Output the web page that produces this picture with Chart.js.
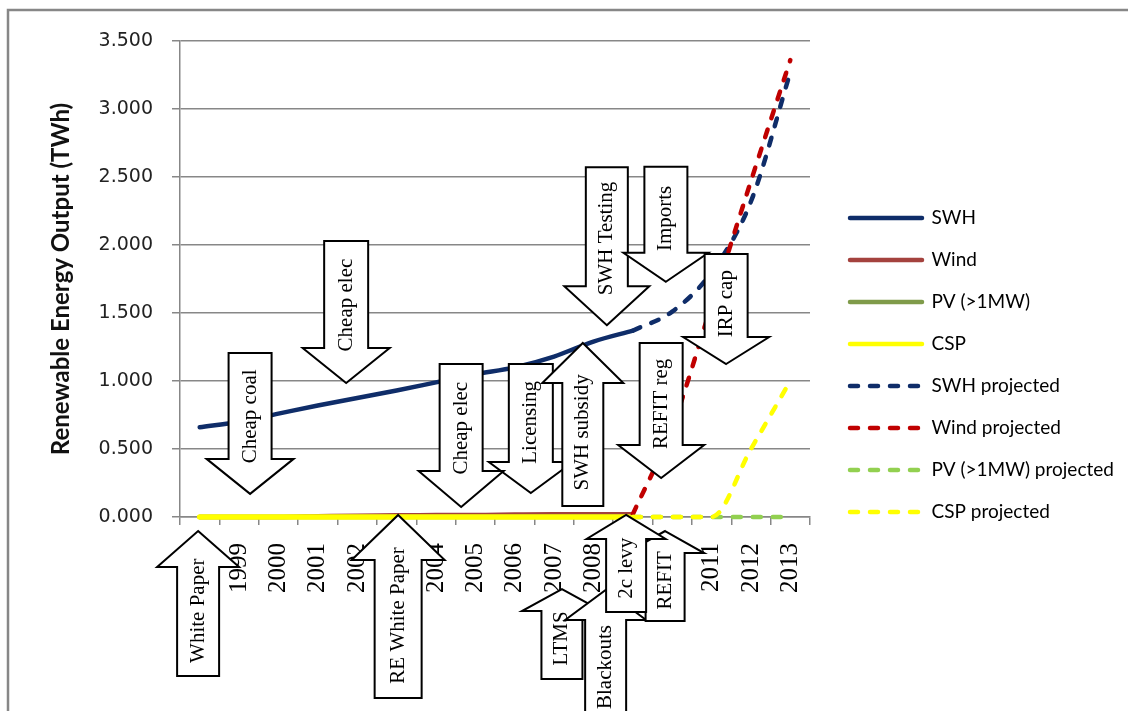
<!DOCTYPE html>
<html>
<head>
<meta charset="utf-8">
<title>Renewable Energy Output</title>
<script src="https://cdn.jsdelivr.net/npm/chart.js@4.4.1/dist/chart.umd.min.js"></script>
<style>
    html, body { margin: 0; padding: 0; background: #fff; }
    canvas { display: block; }
</style>
</head>
<body>
<canvas id="energyChart" width="1128" height="711"></canvas>
<script>
const years = ['1998', '1999', '2000', '2001', '2002', '2003', '2004', '2005',
               '2006', '2007', '2008', '2009', '2010', '2011', '2012', '2013'];

// measured output, TWh (1998-2009)
const swh  = [0.66, 0.70, 0.76, 0.82, 0.875, 0.93, 0.99, 1.05, 1.10, 1.18, 1.29, 1.37];
const wind = [0, 0, 0, 0.005, 0.01, 0.012, 0.015, 0.015, 0.018, 0.02, 0.02, 0.02];
const pv   = [0, 0, 0, 0, 0, 0, 0, 0, 0, 0, 0, 0];
const csp  = [0, 0, 0, 0, 0, 0, 0, 0, 0, 0, 0, 0];

// projections, TWh (2009-2013)
const swhProj  = [1.37, 1.51, 1.80, 2.32, 3.27];
const windProj = [0.02, 0.66, 1.56, 2.47, 3.36];
const pvProj   = [0, 0, 0, 0, 0];
const cspProj  = [0, 0, 0, 0.5, 1.0];

const yTicks = [0, 0.5, 1, 1.5, 2, 2.5, 3, 3.5];

// policy events: year (fractional), value where the arrow points
const events = [
    { text: 'Cheap coal',     dir: 'down', year: 1999.28, value: 0.17,   len: 141, body: 21.5, wing: 43.5, head: 35 },
    { text: 'Cheap elec',     dir: 'down', year: 2001.72, value: 0.985,  len: 142, body: 22,   wing: 43.5, head: 35 },
    { text: 'Licensing',      dir: 'down', year: 2006.41, value: 0.176,  len: 129, body: 22,   wing: 42,   head: 31 },
    { text: 'Cheap elec',     dir: 'down', year: 2004.64, value: 0.074,  len: 143, body: 21.5, wing: 42.5, head: 36 },
    { text: 'SWH subsidy',    dir: 'up',   year: 2007.73, value: 1.28,   len: 163, body: 20.5, wing: 40.5, head: 40 },
    { text: 'SWH Testing',    dir: 'down', year: 2008.34, value: 1.41,   len: 158, body: 21,   wing: 42.5, head: 39 },
    { text: 'Imports',        dir: 'down', year: 2009.84, value: 1.73,   len: 115, body: 21.5, wing: 42.5, head: 29 },
    { text: 'IRP cap',        dir: 'down', year: 2011.37, value: 1.125,  len: 110, body: 21.5, wing: 43,   head: 27 },
    { text: 'REFIT reg',      dir: 'down', year: 2009.72, value: 0.287,  len: 135, body: 21.5, wing: 43,   head: 33 },
    { text: 'White Paper',    dir: 'up',   year: 1997.96, value: -0.103, len: 145, body: 21,   wing: 41,   head: 36 },
    { text: 'RE White Paper', dir: 'up',   year: 2003.04, value: 0.015,  len: 183, body: 23.5, wing: 46.5, head: 45 },
    { text: 'LTMS',           dir: 'up',   year: 2007.2,  value: -0.53,  len: 90,  body: 20.5, wing: 40,   head: 22 },
    { text: 'Blackouts',      dir: 'up',   year: 2008.31, value: -0.537, len: 142, body: 20.5, wing: 40.5, head: 30 },
    { text: 'REFIT',          dir: 'up',   year: 2009.82, value: -0.103, len: 90,  body: 19.5, wing: 39,   head: 22 },
    { text: '2c levy',        dir: 'up',   year: 2008.83, value: 0.015,  len: 97,  body: 20,   wing: 39.5, head: 24 }
];

// pad the measured series out to 16 years, projections start in 2009
const actual = arr => arr.concat(Array(years.length - arr.length).fill(null));
const projected = arr => Array(years.length - arr.length).fill(null).concat(arr);

const gridGrey = '#878787';
const LEGEND_FONT = 19;
const LEGEND_PAD = 23;
const LEGEND_LINE = 72;

function series(label, data, color, dashed, width) {
    return {
        label: label,
        data: data,
        borderColor: color,
        backgroundColor: color,
        borderWidth: width || 4.5,
        borderDash: dashed ? [8, 12] : [],
        borderCapStyle: 'round',
        pointRadius: 0,
        pointHoverRadius: 0,
        fill: false,
        clip: false,
        cubicInterpolationMode: 'monotone'
    };
}

const datasets = [
    series('SWH', actual(swh), '#0f2d69', false),
    series('Wind', actual(wind), '#a4423e', false),
    series('PV (>1MW)', actual(pv), '#7f9b4a', false),
    series('CSP', actual(csp), '#ffff00', false, 5.5),
    series('SWH projected', projected(swhProj), '#0f2d69', true),
    series('Wind projected', projected(windProj), '#c00000', true),
    series('PV (>1MW) projected', projected(pvProj), '#92d050', true),
    series('CSP projected', projected(cspProj), '#ffff00', true)
];
// later series sit on top of earlier ones
datasets.forEach((ds, i) => { ds.order = -i; });

// legend width, so the plot ends where the category axis should
const measureCtx = document.createElement('canvas').getContext('2d');
measureCtx.font = LEGEND_FONT + 'px Lato';
const longestLabel = Math.max(...datasets.map(ds => measureCtx.measureText(ds.label).width));
const legendWidth = LEGEND_PAD + LEGEND_LINE + LEGEND_FONT / 2 + longestLabel + 10;
const plotRight = 810;
const rightGap = 17;
const padRight = Math.max(0, 1128 - plotRight - rightGap - legendWidth);

const pageBorder = {
    id: 'pageBorder',
    beforeDraw(chart) {
        const ctx = chart.ctx;
        ctx.save();
        ctx.fillStyle = '#ffffff';
        ctx.fillRect(0, 0, chart.width, chart.height);
        ctx.strokeStyle = gridGrey;
        ctx.lineWidth = 2.5;
        ctx.strokeRect(8, 10, chart.width + 40, chart.height + 40);
        ctx.restore();
    }
};

const eventArrows = {
    id: 'eventArrows',
    afterDraw(chart) {
        const { ctx, scales: { x, y } } = chart;
        ctx.save();
        ctx.lineWidth = 2;
        ctx.strokeStyle = '#000';
        ctx.lineJoin = 'miter';
        events.forEach(ev => {
            const tx = x.getPixelForValue(ev.year - Number(years[0]));
            const ty = y.getPixelForValue(ev.value);
            const s = ev.dir === 'up' ? 1 : -1;
            const base = ty + s * ev.head;
            const tail = ty + s * ev.len;

            ctx.beginPath();
            ctx.moveTo(tx, ty);
            ctx.lineTo(tx + ev.wing, base);
            ctx.lineTo(tx + ev.body, base);
            ctx.lineTo(tx + ev.body, tail);
            ctx.lineTo(tx - ev.body, tail);
            ctx.lineTo(tx - ev.body, base);
            ctx.lineTo(tx - ev.wing, base);
            ctx.closePath();
            ctx.fillStyle = '#fff';
            ctx.fill();
            ctx.stroke();

            const mid = (ty + tail) / 2 + s * ev.head * 0.2;
            ctx.save();
            ctx.translate(tx, mid);
            ctx.rotate(-Math.PI / 2);
            ctx.fillStyle = '#000';
            ctx.font = '21px "Liberation Serif"';
            ctx.textAlign = 'center';
            ctx.textBaseline = 'middle';
            ctx.fillText(ev.text, 0, 0);
            ctx.restore();
        });
        ctx.restore();
    }
};

const ctx = document.getElementById('energyChart').getContext('2d');

new Chart(ctx, {
    type: 'line',
    data: {
        labels: years,
        datasets: datasets
    },
    options: {
        responsive: false,
        animation: false,
        events: [],
        layout: {
            padding: { top: 41, bottom: 22, left: 0, right: padRight }
        },
        scales: {
            x: {
                offset: true,
                grid: {
                    display: true,
                    drawOnChartArea: false,
                    drawTicks: true,
                    tickLength: 8,
                    offset: true,
                    color: gridGrey,
                    lineWidth: 1.5
                },
                border: { display: true, color: gridGrey, width: 1.5 },
                ticks: {
                    autoSkip: false,
                    minRotation: 90,
                    maxRotation: 90,
                    padding: 18,
                    color: '#000',
                    font: { family: 'Liberation Serif', size: 25 }
                },
                afterFit(scale) { scale.height = 172; }
            },
            y: {
                min: 0,
                max: 3.5,
                afterBuildTicks(scale) {
                    scale.ticks = yTicks.map(v => ({ value: v }));
                },
                grid: {
                    color: gridGrey,
                    lineWidth: 1.5,
                    tickLength: 8
                },
                border: { display: true, color: gridGrey, width: 1.5 },
                ticks: {
                    padding: 19,
                    color: '#222',
                    font: { family: 'DejaVu Sans', size: 19 },
                    callback: v => v.toFixed(3)
                },
                title: {
                    display: true,
                    text: 'Renewable Energy Output (TWh)',
                    color: '#111',
                    font: { family: 'Lato', size: 24, weight: 'bold' },
                    padding: { top: 47, bottom: 0 }
                },
                afterFit(scale) { scale.width = 180; }
            },
            // keeps a little air between the plot and the legend
            gap: {
                type: 'linear',
                position: 'right',
                display: true,
                grid: { display: false, drawTicks: false },
                border: { display: false },
                ticks: { display: false },
                afterFit(scale) { scale.width = rightGap; }
            }
        },
        plugins: {
            tooltip: { enabled: false },
            legend: {
                position: 'right',
                align: 'center',
                maxWidth: 500,
                labels: {
                    usePointStyle: true,
                    pointStyle: 'line',
                    pointStyleWidth: LEGEND_LINE,
                    padding: LEGEND_PAD,
                    color: '#000',
                    font: { family: 'Lato', size: LEGEND_FONT },
                    // point style items take the point options, so copy the line look back in
                    generateLabels(chart) {
                        const items = Chart.defaults.plugins.legend.labels.generateLabels(chart);
                        items.forEach(item => {
                            const ds = chart.data.datasets[item.datasetIndex];
                            item.strokeStyle = ds.borderColor;
                            item.fillStyle = ds.borderColor;
                            item.lineWidth = 4.5;
                            item.lineDash = ds.borderDash;
                            item.lineCap = 'round';
                        });
                        return items;
                    },
                    sort: (a, b) => a.datasetIndex - b.datasetIndex
                }
            }
        }
    },
    plugins: [pageBorder, eventArrows]
});
</script>
</body>
</html>
